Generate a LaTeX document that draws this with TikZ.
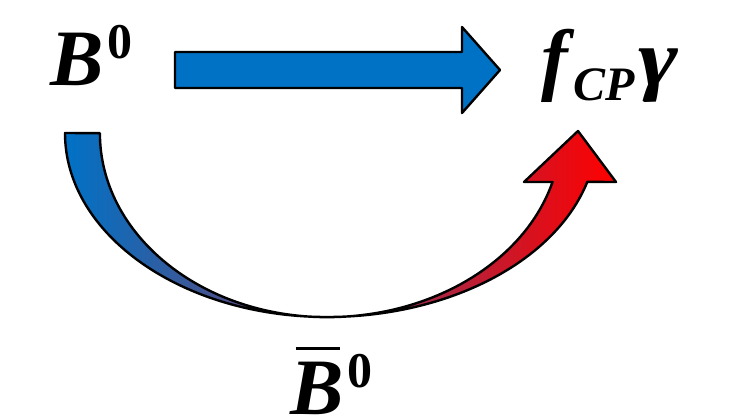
\documentclass[tikz,border=0pt]{standalone}
\usepackage{fontspec}
\setmainfont{Liberation Serif}
\definecolor{arrowblue}{RGB}{0,114,198}
\definecolor{arrowred}{RGB}{255,0,0}
\newcommand{\supzero}{\kern0.04em\raisebox{13.5pt}{\fontsize{25}{30}\selectfont\upshape 0}}
\newcommand{\subcp}{\raisebox{-7.5pt}{\fontsize{24}{28}\selectfont C\kern0.01em P}}
\begin{document}
\begin{tikzpicture}[x=0.5pt, y=0.5pt, thick,
        every node/.style={inner sep=0pt, anchor=base west, font=\fontsize{40}{44}\selectfont\bfseries\itshape},
        block/.style={draw=black, line width=1.2pt, line join=round}]
        \useasboundingbox (0,0) rectangle (748,-419);
        \node (B) at (50,-85) {B\supzero};
        \node (f) at (541,-85) {f\kern0.06em\subcp\kern0.04em\scalebox{1.2}[1]{γ}};
        \node (Bbar) at (290,-414) {\rlap{\kern0.06em\rule[0.8em]{0.56em}{1.5pt}}B\supzero};

        % straight arrow
        \draw[block, fill=arrowblue] (175,-52) -- (462,-52) -- (462,-27) -- (500,-70)
            -- (462,-113) -- (462,-88) -- (175,-88) -- cycle;

        % curved arrow through the anti-B
        \draw[block, left color=arrowblue, right color=arrowred]
            (65,-133) arc[start angle=180, end angle=270, x radius=262, y radius=184]
            arc[start angle=270, end angle=344.6, x radius=270, y radius=184]
            -- (616,-182) -- (578,-131) -- (524,-182) -- (552.5,-182)
            arc[start angle=344.6, end angle=270, x radius=234, y radius=184]
            arc[start angle=270, end angle=180, x radius=227, y radius=184]
            -- cycle;
    \end{tikzpicture}
\end{document}
